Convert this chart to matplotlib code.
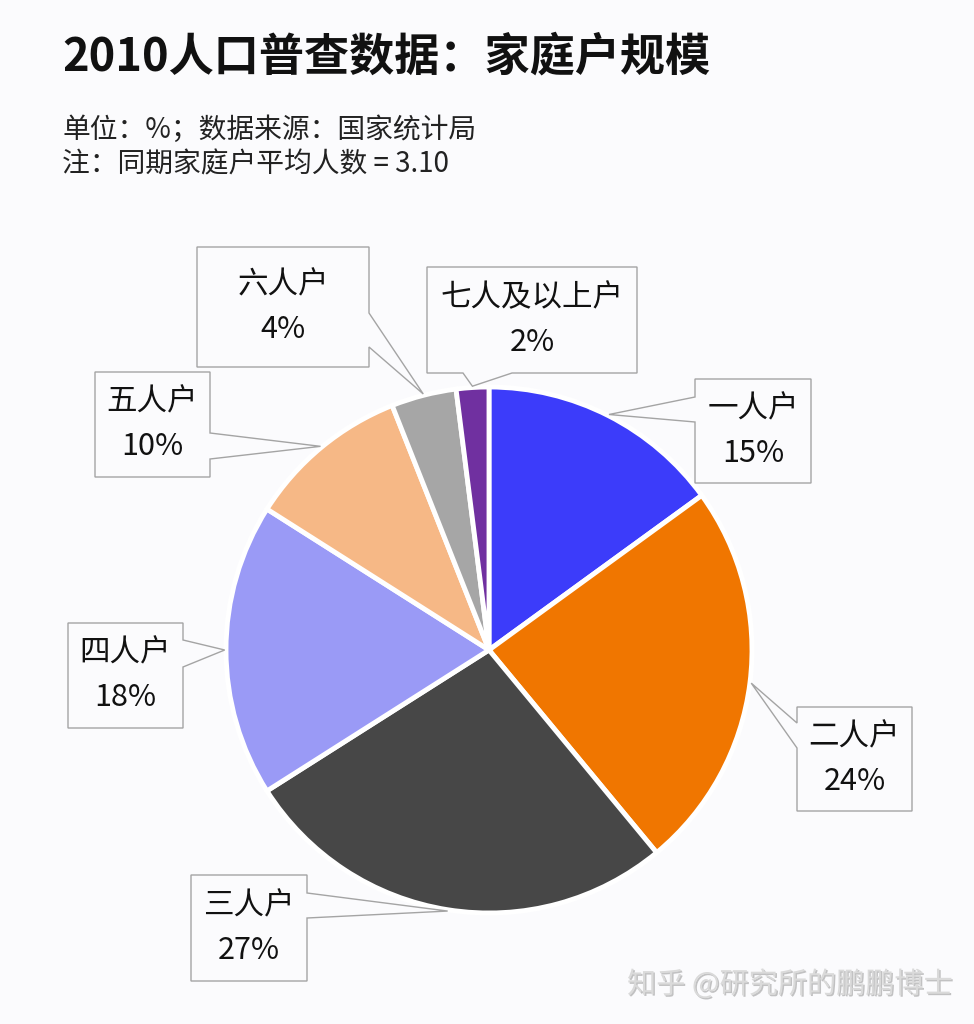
import matplotlib
matplotlib.use('Agg')
import matplotlib.pyplot as plt
from matplotlib.patches import Polygon
import matplotlib.patheffects as pe
import numpy as np

plt.rcParams['font.family'] = ['Noto Sans CJK SC', 'DejaVu Sans']

# data
labels = ['一人户', '二人户', '三人户', '四人户', '五人户', '六人户', '七人及以上户']
shares = [15, 24, 27, 18, 10, 4, 2]
colors = ['#3c3cfa', '#f07600', '#474747', '#9a9af6', '#f6b886', '#a6a6a6', '#7030a0']

title = '2010人口普查数据：家庭户规模'
sub1 = '单位：%；数据来源：国家统计局'
sub2 = '注：同期家庭户平均人数 = 3.10'
mark = '知乎 @研究所的鹏鹏博士'

W, H = 974, 1024
bg = '#fbfbfd'

# callout boxes in px (left, top, right, bottom, pointer side, pointer base span)
boxes = [
    (695, 379, 811, 483, 'left', (397, 422)),
    (797, 707, 912, 811, 'left', (723, 748)),
    (191, 875, 307, 981, 'right', (893, 918)),
    (68, 623, 183, 728, 'right', (640, 667)),
    (95, 372, 210, 477, 'right', (433, 459)),
    (197, 247, 369, 367, 'right', (313, 347)),
    (427, 267, 637, 373, 'bottom', (463, 512)),
]

fig = plt.figure(figsize=(W / 100, H / 100), dpi=100)
fig.patch.set_facecolor(bg)
ax = fig.add_axes([0, 0, 1, 1])
ax.set_facecolor(bg)

wedges, _ = ax.pie(shares, colors=colors, startangle=90, counterclock=False,
                   center=(489, H - 650), radius=263,
                   wedgeprops=dict(edgecolor='white', linewidth=3.5))
ax.set_xlim(0, W)
ax.set_ylim(0, H)
ax.axis('off')

# callouts
for w, lab, v, (l, t, r, b, side, (p, q)) in zip(wedges, labels, shares, boxes):
    ang = np.deg2rad((w.theta1 + w.theta2) / 2)
    tip = (w.center[0] + 1.005 * w.r * np.cos(ang), w.center[1] + 1.005 * w.r * np.sin(ang))
    T, B = H - t, H - b
    pts = [(l, T), (r, T)]
    if side == 'right':
        pts += [(r, H - p), tip, (r, H - q)]
    pts += [(r, B)]
    if side == 'bottom':
        pts += [(q, B), tip, (p, B)]
    pts += [(l, B)]
    if side == 'left':
        pts += [(l, H - q), tip, (l, H - p)]
    ax.add_patch(Polygon(pts, closed=True, fc=bg, ec='#a4a4a4', lw=1.0, zorder=3))
    ax.text((l + r) / 2, H - (t + b) / 2, f'{lab}\n{v}%', ha='center', va='center',
            fontsize=22, linespacing=1.55, color='#111111', zorder=4)

# titles
ax.text(62, H - 58, title, ha='left', va='center', fontsize=32.5, fontweight='bold', color='#111111')
ax.text(62, H - 130, sub1, ha='left', va='center', fontsize=20, color='#222222')
ax.text(62, H - 164, sub2, ha='left', va='center', fontsize=20, color='#222222')

# watermark
ax.text(627, H - 985, mark, ha='left', va='center', fontsize=21, color='#dadada',
        path_effects=[pe.withSimplePatchShadow(offset=(1, -1), shadow_rgbFace='#888888', alpha=0.5)])

fig.savefig('out.png', dpi=100, facecolor=bg)
